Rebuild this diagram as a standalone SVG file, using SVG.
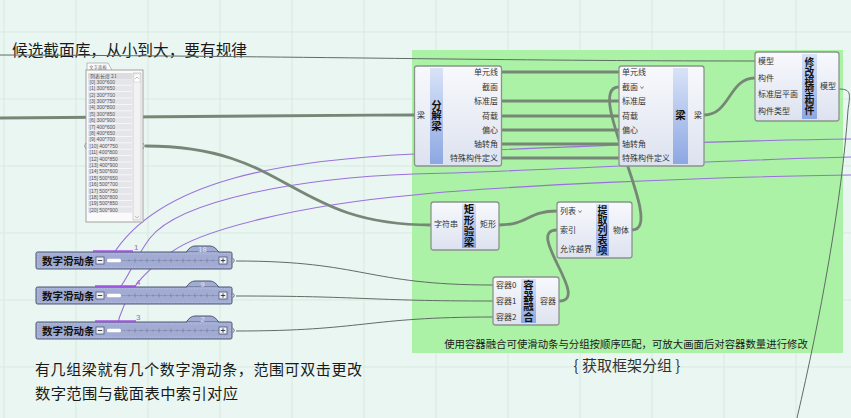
<svg xmlns="http://www.w3.org/2000/svg" width="851" height="418" viewBox="0 0 851 418">
<defs>
<linearGradient id="ng" x1="0" y1="0" x2="0" y2="1"><stop offset="0" stop-color="#f8f9fd"/><stop offset="1" stop-color="#dde2ef"/></linearGradient>
<linearGradient id="bar" x1="0" y1="0" x2="0" y2="1"><stop offset="0" stop-color="#d8e3f7"/><stop offset="1" stop-color="#8ca7e2"/></linearGradient>
<style>
.cj{font-family:'Noto Sans CJK SC','Liberation Sans',sans-serif}
.nb{fill:url(#ng);stroke:#8b948c;stroke-width:1.3}
.bar{fill:url(#bar)}
.lb{font-size:8px;fill:#333}
.rt{text-anchor:end}
.tt{font-size:10.5px;font-weight:bold;fill:#111;text-anchor:middle;writing-mode:vertical-rl}
.w{fill:none;stroke:#778777;stroke-width:2.8;stroke-linecap:round}
.t{fill:none;stroke:#5f6d64;stroke-width:1}
.p{fill:none;stroke:#9a70dc;stroke-width:1.1}
.sl{fill:#a2acd3;stroke:#4d5675;stroke-width:1}
.grid{stroke:#d8e9e0;stroke-width:1}
.row{fill:#e5e6ea}
.pt{font-family:'Liberation Sans',sans-serif;font-size:5px;fill:#555}
.tabv{font-family:'Liberation Sans',sans-serif;font-size:7.5px;fill:#dfe3f5;text-anchor:middle}
.pv{font-family:'Liberation Sans',sans-serif;font-size:8px;fill:#a060e0}
.pbar{stroke:#a055e0;stroke-width:2}
.btn{fill:#eef0f8;stroke:#4d5675;stroke-width:0.8}
.tk{stroke:#6f779c;stroke-width:0.7}
</style>
<g id="sliderBase">
<path d="M150,0.5 Q154,-6 159,-6 L174,-6 Q179,-6 183,0.5" class="sl"/>
<rect x="0" y="0" width="196" height="17" rx="1.5" class="sl"/>
<path d="M151,0.5 L182,0.5" stroke="#a2acd3" stroke-width="1.2"/>
<rect x="1.8" y="1.8" width="192.4" height="13.4" fill="none" stroke="#c9cfe8" stroke-width="0.6" stroke-dasharray="1.5,1.5"/>
<rect x="60" y="5" width="8" height="7" class="btn"/>
<path d="M61.8,8.5 H66.2" stroke="#333" stroke-width="0.9"/>
<path d="M69,8.5 H183" stroke="#8a92b8" stroke-width="0.8"/>
<rect x="71" y="6.8" width="14" height="3.4" rx="1.5" fill="#ffffff"/>
<path d="M93,7.5 v2 M99,6.5 v4 M105,7.5 v2 M111,6.5 v4 M117,7.5 v2 M123,6.5 v4 M129,7.5 v2 M135,6.5 v4 M141,7.5 v2 M147,6.5 v4 M153,7.5 v2 M159,6.5 v4 M165,7.5 v2 M171,6.5 v4 M177,7.5 v2" class="tk"/>
<rect x="183" y="5" width="8" height="7" class="btn"/>
<path d="M184.8,8.5 H189.2 M187,6.3 V10.7" stroke="#333" stroke-width="0.9"/>
<path d="M196.5,6 Q200,8.5 196.5,11" fill="none" stroke="#4d5675" stroke-width="0.9"/>
</g>
</defs>

<rect x="0" y="0" width="851" height="418" fill="#eaf6f1"/>
<g id="grid">
<path class="grid" d="M4,0V418 M76,0V418 M148,0V418 M220,0V418 M292,0V418 M364,0V418 M436,0V418 M508,0V418 M580,0V418 M652,0V418 M724,0V418 M796,0V418 M0,32H851 M0,99H851 M0,166H851 M0,233H851 M0,300H851 M0,367H851"/>
</g>

<g id="group-frame">
<rect x="412" y="50" width="431" height="303" fill="#abf1a6"/>
<text x="626" y="347.5" class="cj" font-size="10.4" fill="#1a1a1a" text-anchor="middle">使用容器融合可使滑动条与分组按顺序匹配，可放大画面后对容器数量进行修改</text>
<text x="627" y="371" class="cj" font-size="15" fill="#333" text-anchor="middle">{ 获取框架分组 }</text>
</g>

<g id="notes">
<text x="12" y="56" class="cj" font-size="16" fill="#1a1a1a" textLength="235" lengthAdjust="spacingAndGlyphs">候选截面库，从小到大，要有规律</text>
<text x="35" y="374.5" class="cj" font-size="15" fill="#1a1a1a" textLength="327" lengthAdjust="spacing">有几组梁就有几个数字滑动条，范围可双击更改</text>
<text x="35" y="399" class="cj" font-size="15.3" fill="#1a1a1a" textLength="203" lengthAdjust="spacing">数字范围与截面表中索引对应</text>
</g>

<g id="connectors">
<path class="p" d="M851,139 C760,140 560,146 414,154 C290,160 160,178 112,256"/>
<path class="p" d="M851,157 C740,159 520,172 414,174 C300,178 180,200 150,238 C135,258 130,275 117,292"/>
<path class="p" d="M851,175 C700,177 500,186 414,195 C300,205 200,230 170,253 C145,272 125,290 116,330"/>
<path class="t" d="M0,55 C300,56 500,61 755,61"/>
<path class="w" d="M0,118 C200,117 300,115 414,115"/>
<path class="w" d="M146,146 C290,146 290,225 431,225"/>
<path class="w" d="M501,72 H619 M501,101 H619 M501,116 H619 M501,130 H619 M501,144 H619 M501,158 H619"/>
<path class="w" d="M704,115 C730,115 729,78 755,78"/>
<path class="w" d="M499,225 C528,225 528,211 557,211"/>
<path class="w" d="M632,230 C668,230 582,87 619,87"/>
<path class="w" d="M559,301 C592,301 524,230 557,230"/>
<path class="t" d="M236,261 C365,261 365,285 493,285"/>
<path class="t" d="M236,296 C365,296 365,301 493,301"/>
<path class="t" d="M236,331 C365,331 365,317 493,317"/>
<path class="t" d="M839,89 C852,89 850,95 848,110 C842,200 820,320 797,418"/>
</g>

<g id="panel" class="cj">
<path d="M87,70 V63 H108 L112,70" fill="#fbfbfb" stroke="#a0a0a0" stroke-width="0.7"/>
<text x="89" y="68.5" font-size="4.5" fill="#666">文字面板</text>
<rect x="86" y="70" width="57" height="152" fill="#fafafa" stroke="#9a9a9a" stroke-width="0.9"/>
<rect x="88" y="73" width="44" height="6" fill="#dcdde3"/>
<text x="90" y="77.8" font-size="5" fill="#555">列表长度 21</text>
<g>
<rect class="row" x="88" y="79.2" width="44" height="5.6"/><text class="pt" x="89.5" y="83.8">[0] 300*600</text>
<rect class="row" x="88" y="85.6" width="44" height="5.6"/><text class="pt" x="89.5" y="90.2">[1] 300*650</text>
<rect class="row" x="88" y="92" width="44" height="5.6"/><text class="pt" x="89.5" y="96.6">[2] 300*700</text>
<rect class="row" x="88" y="98.4" width="44" height="5.6"/><text class="pt" x="89.5" y="103">[3] 300*750</text>
<rect class="row" x="88" y="104.8" width="44" height="5.6"/><text class="pt" x="89.5" y="109.4">[4] 300*800</text>
<rect class="row" x="88" y="111.2" width="44" height="5.6"/><text class="pt" x="89.5" y="115.8">[5] 300*850</text>
<rect class="row" x="88" y="117.6" width="44" height="5.6"/><text class="pt" x="89.5" y="122.2">[6] 300*900</text>
<rect class="row" x="88" y="124" width="44" height="5.6"/><text class="pt" x="89.5" y="128.6">[7] 400*600</text>
<rect class="row" x="88" y="130.4" width="44" height="5.6"/><text class="pt" x="89.5" y="135">[8] 400*650</text>
<rect class="row" x="88" y="136.8" width="44" height="5.6"/><text class="pt" x="89.5" y="141.4">[9] 400*700</text>
<rect class="row" x="88" y="143.2" width="44" height="5.6"/><text class="pt" x="89.5" y="147.8">[10] 400*750</text>
<rect class="row" x="88" y="149.6" width="44" height="5.6"/><text class="pt" x="89.5" y="154.2">[11] 400*800</text>
<rect class="row" x="88" y="156" width="44" height="5.6"/><text class="pt" x="89.5" y="160.6">[12] 400*850</text>
<rect class="row" x="88" y="162.4" width="44" height="5.6"/><text class="pt" x="89.5" y="167">[13] 400*900</text>
<rect class="row" x="88" y="168.8" width="44" height="5.6"/><text class="pt" x="89.5" y="173.4">[14] 500*600</text>
<rect class="row" x="88" y="175.2" width="44" height="5.6"/><text class="pt" x="89.5" y="179.8">[15] 500*650</text>
<rect class="row" x="88" y="181.6" width="44" height="5.6"/><text class="pt" x="89.5" y="186.2">[16] 500*700</text>
<rect class="row" x="88" y="188" width="44" height="5.6"/><text class="pt" x="89.5" y="192.6">[17] 500*750</text>
<rect class="row" x="88" y="194.4" width="44" height="5.6"/><text class="pt" x="89.5" y="199">[18] 500*800</text>
<rect class="row" x="88" y="200.8" width="44" height="5.6"/><text class="pt" x="89.5" y="205.4">[19] 500*850</text>
<rect class="row" x="88" y="207.2" width="44" height="5.6"/><text class="pt" x="89.5" y="211.8">[20] 500*900</text>
</g>
<rect x="133" y="73" width="8" height="147" fill="#f2f2f2" stroke="#bbbbbb" stroke-width="0.6"/>
<rect x="134" y="74" width="6" height="8" fill="#ffffff" stroke="#c4c4c4" stroke-width="0.5"/>
<path d="M135,79 L137,77 L139,79 M135,216 L137,218 L139,216" fill="none" stroke="#999" stroke-width="0.6"/>
<path d="M86,143 Q83,146 86,149 M143,143 Q146,146 143,149" fill="none" stroke="#888" stroke-width="0.8"/>
</g>

<g id="node-decompose" class="cj">
<rect x="414.5" y="66" width="87" height="100" rx="2.5" class="nb"/>
<rect x="430" y="68" width="13" height="96" class="bar"/>
<text class="lb" x="417" y="118">梁</text>
<text class="tt" x="436.5" y="115.5">分解梁</text>
<g class="lb rt">
<text x="498" y="75">单元线</text>
<text x="498" y="90">截面</text>
<text x="498" y="104">标准层</text>
<text x="498" y="119">荷载</text>
<text x="498" y="133">偏心</text>
<text x="498" y="147">轴转角</text>
<text x="498" y="161">特殊构件定义</text>
</g>
</g>

<g id="node-beam" class="cj">
<rect x="619" y="66" width="85" height="100" rx="2.5" class="nb"/>
<rect x="673" y="68" width="15" height="96" class="bar"/>
<g class="lb">
<text x="622" y="75">单元线</text>
<text x="622" y="90">截面</text>
<text x="622" y="104">标准层</text>
<text x="622" y="119">荷载</text>
<text x="622" y="133">偏心</text>
<text x="622" y="147">轴转角</text>
<text x="622" y="161">特殊构件定义</text>
</g>
<path d="M640.5,86.5 L642,88.5 L643.5,86.5" fill="none" stroke="#444" stroke-width="0.7"/>
<text class="tt" x="680.5" y="115" font-size="12">梁</text>
<text class="lb rt" x="702" y="118">梁</text>
</g>

<g id="node-modify" class="cj">
<rect x="755" y="52" width="84" height="69" rx="2.5" class="nb"/>
<rect x="802" y="54" width="15" height="65" class="bar"/>
<g class="lb">
<text x="758" y="64">模型</text>
<text x="758" y="81">构件</text>
<text x="758" y="97">标准层平面</text>
<text x="758" y="114">构件类型</text>
</g>
<text class="tt" x="809.5" y="86.5" style="font-size:9.8px;letter-spacing:-0.2px">修改模型构件</text>
<text class="lb rt" x="836" y="89">模型</text>
</g>

<g id="node-rect-check" class="cj">
<rect x="431" y="202" width="68" height="48" rx="2.5" class="nb"/>
<rect x="462" y="204" width="14" height="44" class="bar"/>
<text class="lb" x="434" y="227">字符串</text>
<text class="tt" x="469" y="226" style="letter-spacing:0.5px">矩形验梁</text>
<text class="lb rt" x="496" y="227">矩形</text>
</g>

<g id="node-list-item" class="cj">
<rect x="557" y="202" width="75" height="56" rx="2.5" class="nb"/>
<rect x="596" y="204" width="13" height="52" class="bar"/>
<g class="lb">
<text x="560" y="214">列表</text>
<text x="560" y="233">索引</text>
<text x="560" y="252">允许越界</text>
</g>
<path d="M578.5,210.5 L580,212.5 L581.5,210.5" fill="none" stroke="#444" stroke-width="0.7"/>
<text class="tt" x="602.5" y="230" style="font-size:10px">提取列表项</text>
<text class="lb rt" x="629" y="233">物体</text>
</g>

<g id="node-merge" class="cj">
<rect x="493" y="277" width="66" height="48" rx="2.5" class="nb"/>
<rect x="521" y="279" width="15" height="44" class="bar"/>
<g class="lb">
<text x="496" y="288">容器0</text>
<text x="496" y="304">容器1</text>
<text x="496" y="320">容器2</text>
</g>
<text class="tt" x="528.5" y="301">容器融合</text>
<text class="lb rt" x="556" y="304">容器</text>
</g>

<g id="slider-1" class="cj">
<use href="#sliderBase" transform="translate(36,252)"/>
<text x="42" y="264.8" font-size="10.5" font-weight="bold" fill="#111">数字滑动条</text>
<text class="tabv" x="202.5" y="251.5">18</text>
<path class="pbar" d="M93,251.3 H133"/>
<text class="pv" x="134" y="250">1</text>
</g>
<g id="slider-2" class="cj">
<use href="#sliderBase" transform="translate(36,287)"/>
<text x="42" y="299.8" font-size="10.5" font-weight="bold" fill="#111">数字滑动条</text>
<text class="tabv" x="202.5" y="286.5">9</text>
<path class="pbar" d="M95,286.3 H136"/>
<text class="pv" x="136" y="285">4</text>
</g>
<g id="slider-3" class="cj">
<use href="#sliderBase" transform="translate(36,322)"/>
<text x="42" y="334.8" font-size="10.5" font-weight="bold" fill="#111">数字滑动条</text>
<text class="tabv" x="202.5" y="321.5">2</text>
<path class="pbar" d="M95,321.3 H136"/>
<text class="pv" x="136" y="320">3</text>
</g>
</svg>
